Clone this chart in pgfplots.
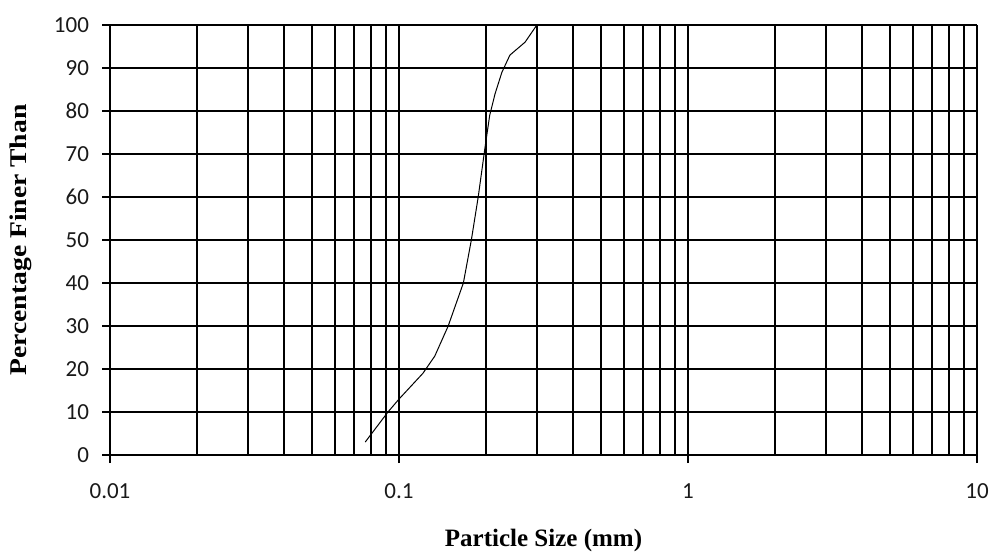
\documentclass[border=0pt]{standalone}
\usepackage{pgfplots}
\pgfplotsset{compat=1.18}
\usepackage{fontspec}
\setmainfont{Liberation Serif}
\newfontfamily\tickfont{Carlito}
\begin{document}
\begin{tikzpicture}
\begin{axis}[
  xmode=log,
  scale only axis,
  width=433.5pt, height=215pt,
  xmin=0.01, xmax=10, ymin=0, ymax=100,
  ytick={0,10,...,100},
  xtick={0.01,0.1,1,10},
  xticklabels={0.01,0.1,1,10},
  log ticks with fixed point,
  grid=both,
  major grid style={black, line width=0.8pt},
  minor grid style={black, line width=0.8pt},
  axis line style={black, line width=0.9pt},
  tick align=outside,
  major tick length=4pt,
  minor tick length=0pt,
  tick style={black, line width=0.8pt},
  axis x line*=bottom, axis y line*=left,
  ticklabel style={font=\tickfont\fontsize{11.5}{13}\selectfont, text=black!90},
  /pgf/number format/assume math mode=true,
  xticklabel style={yshift=-7pt},
  yticklabel style={xshift=-3pt},
  xlabel={\bfseries Particle Size (mm)},
  ylabel={\bfseries\scalebox{1.15}[1]{Percentage Finer Than}},
  xlabel style={font=\fontsize{12.5}{14}\selectfont, yshift=-8pt},
  ylabel style={font=\fontsize{12}{14}\selectfont, yshift=4pt},
]
\addplot[black, line width=0.5pt, mark=none] coordinates {
(0.0764,3) (0.0916,10) (0.1,13) (0.121,19) (0.133,23) (0.148,30)
(0.167,40) (0.178,50) (0.188,60) (0.198,71) (0.206,79) (0.215,84)
(0.227,89) (0.242,93) (0.273,96) (0.30,100)
};
\end{axis}
\pgfresetboundingbox
\useasboundingbox ([xshift=-55pt,yshift=-48pt]current axis.south west) rectangle ([xshift=8.5pt,yshift=12.5pt]current axis.north east);
\end{tikzpicture}
\end{document}
